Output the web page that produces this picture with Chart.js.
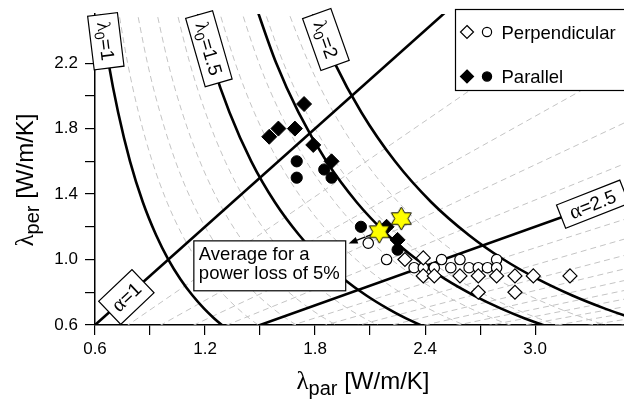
<!DOCTYPE html>
<html><head><meta charset="utf-8">
<script src="https://cdn.jsdelivr.net/npm/chart.js@4/dist/chart.umd.min.js"></script>
<style>html,body{margin:0;padding:0;background:#fff;overflow:hidden}#wrap{width:624px;height:400px;position:relative;overflow:hidden}</style>
</head><body><div id="wrap"><canvas id="c" width="637" height="400"></canvas></div>
<script>
// ---------------- data ----------------
// measured points
const perpDiamondX = [2.29, 2.39, 2.39, 2.45, 2.59, 2.69, 2.79, 2.89, 2.99, 3.19, 2.69, 2.89];
const perpDiamondY = [1.00, 1.01, 0.90, 0.90, 0.90, 0.90, 0.90, 0.90, 0.90, 0.90, 0.80, 0.80];
const perpCircleX = [2.09, 2.19, 2.49, 2.59, 2.79, 2.34, 2.39, 2.45, 2.54, 2.64, 2.69, 2.74, 2.79];
const perpCircleY = [1.10, 1.00, 1.00, 1.00, 1.00, 0.95, 0.95, 0.95, 0.95, 0.95, 0.95, 0.95, 0.95];
const parDiamondX = [1.74, 1.60, 1.55, 1.69, 1.79, 1.89, 2.19, 2.25];
const parDiamondY = [1.95, 1.80, 1.75, 1.80, 1.70, 1.60, 1.20, 1.12];
const parCircleX = [1.70, 1.70, 1.85, 1.89, 2.05, 2.25];
const parCircleY = [1.60, 1.50, 1.55, 1.50, 1.20, 1.06];
const averageX = [2.15, 2.27];
const averageY = [1.17, 1.25];

// lambda0 contour curves: shared y levels, x
const contourY = [2.6, 2.2, 1.9, 1.6, 1.35, 1.15, 1.0, 0.88, 0.78, 0.7, 0.64, 0.58];
const solidLambda0 = ['1', '1.5', '', '2'];
const solidContourX = [
  [0.620, 0.674, 0.726, 0.791, 0.861, 0.933, 1.000, 1.066, 1.132, 1.195, 1.250, 1.313],
  [1.139, 1.239, 1.333, 1.452, 1.581, 1.713, 1.837, 1.958, 2.080, 2.196, 2.296, 2.412],
  [1.461, 1.588, 1.709, 1.862, 2.027, 2.196, 2.355, 2.510, 2.667, 2.815, 2.944, 3.092],
  [1.754, 1.907, 2.052, 2.236, 2.434, 2.638, 2.828, 3.015, 3.203, 3.381, 3.536, 3.714]
];
const dashedLambda0 = [1.1, 1.2, 1.3, 1.4, 1.6, 1.7, 1.8, 1.9];
const dashedContourX = [
  [0.716, 0.778, 0.837, 0.912, 0.993, 1.076, 1.154, 1.230, 1.306, 1.379, 1.442, 1.515],
  [0.815, 0.886, 0.954, 1.039, 1.131, 1.226, 1.315, 1.401, 1.488, 1.571, 1.643, 1.726],
  [0.919, 0.999, 1.075, 1.172, 1.276, 1.382, 1.482, 1.580, 1.678, 1.772, 1.853, 1.946],
  [1.027, 1.117, 1.202, 1.310, 1.426, 1.545, 1.657, 1.766, 1.876, 1.980, 2.071, 2.175],
  [1.255, 1.365, 1.468, 1.600, 1.742, 1.887, 2.024, 2.158, 2.292, 2.419, 2.530, 2.658],
  [1.375, 1.494, 1.608, 1.752, 1.908, 2.067, 2.217, 2.363, 2.510, 2.649, 2.771, 2.911],
  [1.498, 1.628, 1.752, 1.909, 2.079, 2.252, 2.415, 2.574, 2.735, 2.886, 3.019, 3.171],
  [1.624, 1.766, 1.900, 2.071, 2.254, 2.442, 2.619, 2.792, 2.966, 3.130, 3.274, 3.439]
];

// alpha lines (from the origin to the right edge, x = 3.5)
const solidAlpha = ['1', '2.5'];
const solidAlphaEndY = [3.5, 1.4];
const dashedAlpha = [1.3, 1.6, 1.9, 2.2, 2.8, 3.1, 3.4, 3.7, 4.0, 4.3, 4.6, 4.9, 5.2, 5.5, 5.8];
const dashedAlphaEndY = [2.692, 2.188, 1.842, 1.591, 1.250, 1.129, 1.029, 0.946, 0.875, 0.814, 0.761, 0.714, 0.673, 0.636, 0.603];

// axis tick labels
const xTickLabels = ['0.6', '1.2', '1.8', '2.4', '3.0'];
const yTickLabels = ['0.6', '1.0', '1.4', '1.8', '2.2'];

// ---------------- helpers ----------------
const SANS = '"Liberation Sans", Arial, Helvetica, sans-serif';
const SERIF = '"Liberation Serif", "DejaVu Serif", "Times New Roman", serif';
const zip = (xs, ys) => xs.map((x, i) => ({x: x, y: ys[i]}));

function makeStar(R) {
  const s = Math.ceil(2 * R + 4);
  const c = document.createElement('canvas');
  c.width = s; c.height = s;
  const g = c.getContext('2d');
  const cx = s / 2, cy = s / 2;
  g.beginPath();
  for (let k = 0; k < 12; k++) {
    const ang = (-90 + 30 * k) * Math.PI / 180;
    const r = k % 2 === 0 ? R : R / Math.sqrt(3);
    const px = cx + r * Math.cos(ang), py = cy + r * Math.sin(ang);
    if (k) g.lineTo(px, py); else g.moveTo(px, py);
  }
  g.closePath();
  g.fillStyle = '#ffff00'; g.fill();
  g.lineWidth = 1; g.strokeStyle = '#000'; g.stroke();
  return c;
}
function richWidth(ctx, segs) {
  let w = 0;
  for (const s of segs) { ctx.font = s.font; w += ctx.measureText(s.t).width; }
  return w;
}
function drawRich(ctx, segs, x, y) {
  let cx = x;
  for (const s of segs) { ctx.font = s.font; ctx.fillText(s.t, cx, y + (s.dy || 0)); cx += ctx.measureText(s.t).width; }
}
function lamSegs(v) {
  return [{t: 'λ', font: '19px ' + SERIF}, {t: '0', font: '14px ' + SANS, dy: 4}, {t: '=' + v, font: '19px ' + SANS}];
}
function alphaSegs(v) {
  return [{t: 'α', font: '21px ' + SERIF}, {t: '=' + v, font: '19px ' + SANS}];
}
function tagBox(ctx, cx, cy, angleDeg, w, h, segs) {
  ctx.save();
  ctx.translate(cx, cy);
  ctx.rotate(angleDeg * Math.PI / 180);
  ctx.fillStyle = '#fff'; ctx.strokeStyle = '#000'; ctx.lineWidth = 1.2;
  ctx.fillRect(-w / 2, -h / 2, w, h); ctx.strokeRect(-w / 2, -h / 2, w, h);
  ctx.fillStyle = '#000'; ctx.textBaseline = 'alphabetic'; ctx.textAlign = 'left';
  const tw = richWidth(ctx, segs);
  drawRich(ctx, segs, -tw / 2, 6.5);
  ctx.restore();
}

// label placements (data coordinates of box centres, angle, box size)
const lamTags = [
  {v: solidLambda0[0], x: 0.659, y: 2.334, a: 83, w: 54, h: 30},
  {v: solidLambda0[1], x: 1.221, y: 2.288, a: 74, w: 71, h: 28},
  {v: solidLambda0[3], x: 1.859, y: 2.344, a: 70.5, w: 55, h: 30}
];
const alphaTags = [
  {v: solidAlpha[0], x: 0.771, y: 0.771, a: -43.6, w: 46, h: 32},
  {v: solidAlpha[1], x: 3.314, y: 1.338, a: -21.5, w: 68, h: 25}
];

const decorPlugin = {
  id: 'decor',
  beforeDatasetsDraw(chart) {
    const ctx = chart.ctx, xs = chart.scales.x, ys = chart.scales.y;
    // arrow from the first star towards the note box
    const x0 = xs.getPixelForValue(averageX[0]) - 4, y0 = ys.getPixelForValue(averageY[0]) + 1.5;
    const x1 = xs.getPixelForValue(1.983), y1 = ys.getPixelForValue(1.098);
    const ang = Math.atan2(y1 - y0, x1 - x0);
    ctx.save();
    ctx.strokeStyle = '#000'; ctx.fillStyle = '#000'; ctx.lineWidth = 1.3;
    ctx.beginPath(); ctx.moveTo(x0, y0); ctx.lineTo(x1 - 7 * Math.cos(ang), y1 - 7 * Math.sin(ang)); ctx.stroke();
    ctx.beginPath();
    ctx.moveTo(x1, y1);
    ctx.lineTo(x1 - 9 * Math.cos(ang) + 3.5 * Math.sin(ang), y1 - 9 * Math.sin(ang) - 3.5 * Math.cos(ang));
    ctx.lineTo(x1 - 9 * Math.cos(ang) - 3.5 * Math.sin(ang), y1 - 9 * Math.sin(ang) + 3.5 * Math.cos(ang));
    ctx.closePath(); ctx.fill();
    ctx.restore();
  },
  afterDatasetsDraw(chart) {
    const ctx = chart.ctx, xs = chart.scales.x, ys = chart.scales.y, ca = chart.chartArea;
    for (const t of lamTags) tagBox(ctx, xs.getPixelForValue(t.x), ys.getPixelForValue(t.y), t.a, t.w, t.h, lamSegs(t.v));
    for (const t of alphaTags) tagBox(ctx, xs.getPixelForValue(t.x), ys.getPixelForValue(t.y), t.a, t.w, t.h, alphaSegs(t.v));

    // note box
    const bl = xs.getPixelForValue(1.139), br = xs.getPixelForValue(1.967);
    const bt = ys.getPixelForValue(1.114), bb = ys.getPixelForValue(0.809);
    ctx.save();
    ctx.fillStyle = '#fff'; ctx.strokeStyle = '#000'; ctx.lineWidth = 1.2;
    ctx.fillRect(bl, bt, br - bl, bb - bt); ctx.strokeRect(bl, bt, br - bl, bb - bt);
    ctx.fillStyle = '#000'; ctx.font = '18.5px ' + SANS; ctx.textAlign = 'left'; ctx.textBaseline = 'alphabetic';
    ctx.fillText('Average for a', bl + 5, bt + 19.5);
    ctx.fillText('power loss of 5%', bl + 5, bt + 38);
    ctx.restore();

    // legend
    const lx = 455.5, ly = 9.5;
    ctx.save();
    ctx.fillStyle = '#fff'; ctx.strokeStyle = '#000'; ctx.lineWidth = 1.2;
    ctx.fillRect(lx, ly, 200, 81); ctx.strokeRect(lx, ly, 200, 81);
    const rows = [{txt: 'Perpendicular', fill: '#fff', cy: ly + 22.5}, {txt: 'Parallel', fill: '#000', cy: ly + 67}];
    for (const r of rows) {
      ctx.fillStyle = r.fill; ctx.strokeStyle = '#000'; ctx.lineWidth = 1.2;
      const dx = lx + 11.5, cr = 6.5;
      ctx.beginPath(); ctx.moveTo(dx, r.cy - cr); ctx.lineTo(dx + cr, r.cy); ctx.lineTo(dx, r.cy + cr); ctx.lineTo(dx - cr, r.cy); ctx.closePath();
      ctx.fill(); ctx.stroke();
      ctx.beginPath(); ctx.arc(lx + 31.5, r.cy, 4.6, 0, Math.PI * 2); ctx.fill(); ctx.stroke();
      ctx.fillStyle = '#000'; ctx.font = '18.5px ' + SANS; ctx.textAlign = 'left'; ctx.textBaseline = 'alphabetic';
      ctx.fillText(r.txt, lx + 46, r.cy + 6.5);
    }
    ctx.restore();

    // axis titles
    ctx.save();
    ctx.fillStyle = '#000'; ctx.textBaseline = 'alphabetic'; ctx.textAlign = 'left';
    const xt = [{t: 'λ', font: '25px ' + SERIF}, {t: 'par', font: '20px ' + SANS, dy: 6}, {t: ' [W/m/K]', font: '24px ' + SANS}];
    const xw = richWidth(ctx, xt);
    drawRich(ctx, xt, (ca.left + ca.right) / 2 + 3 - xw / 2, 389);
    const yt = [{t: 'λ', font: '25px ' + SERIF}, {t: 'per', font: '20px ' + SANS, dy: 6}, {t: ' [W/m/K]', font: '24px ' + SANS}];
    const yw = richWidth(ctx, yt);
    ctx.translate(33, 180);
    ctx.rotate(-Math.PI / 2);
    drawRich(ctx, yt, -yw / 2, 0);
    ctx.restore();
  }
};

// ---------------- datasets ----------------
const datasets = [];
const lineBase = {showLine: true, pointRadius: 0, pointHoverRadius: 0, pointHitRadius: 0, fill: false};
dashedContourX.forEach((xs) => datasets.push(Object.assign({}, lineBase, {
  data: zip(xs, contourY), borderColor: '#c4c4c4', borderWidth: 1, borderDash: [6, 4], cubicInterpolationMode: 'monotone', order: 20
})));
dashedAlphaEndY.forEach((ye) => datasets.push(Object.assign({}, lineBase, {
  data: [{x: 0, y: 0}, {x: 3.5, y: ye}], borderColor: '#c4c4c4', borderWidth: 1, borderDash: [6, 4], order: 20
})));
solidContourX.forEach((xs) => datasets.push(Object.assign({}, lineBase, {
  data: zip(xs, contourY), borderColor: '#000', borderWidth: 2.6, cubicInterpolationMode: 'monotone', order: 10
})));
solidAlphaEndY.forEach((ye) => datasets.push(Object.assign({}, lineBase, {
  data: [{x: 0, y: 0}, {x: 3.5, y: ye}], borderColor: '#000', borderWidth: 2.6, order: 10
})));
datasets.push({label: 'Perpendicular circles', data: zip(perpCircleX, perpCircleY), pointStyle: 'circle', pointRadius: 5.2,
  backgroundColor: '#fff', borderColor: '#000', borderWidth: 1.2, order: 5});
datasets.push({label: 'Perpendicular diamonds', data: zip(perpDiamondX, perpDiamondY), pointStyle: 'rectRot', pointRadius: 7,
  backgroundColor: '#fff', borderColor: '#000', borderWidth: 1.2, order: 4});
datasets.push({label: 'Parallel circles', data: zip(parCircleX, parCircleY), pointStyle: 'circle', pointRadius: 5.6,
  backgroundColor: '#000', borderColor: '#000', borderWidth: 1, order: 3});
datasets.push({label: 'Parallel diamonds', data: zip(parDiamondX, parDiamondY), pointStyle: 'rectRot', pointRadius: 7.5,
  backgroundColor: '#000', borderColor: '#000', borderWidth: 1, order: 2});
datasets.push({label: 'Average', data: zip(averageX, averageY), pointStyle: makeStar(11.5), pointRadius: 11, order: 1});

new Chart(document.getElementById('c'), {
  type: 'scatter',
  data: {datasets: datasets},
  options: {
    responsive: false, animation: false, devicePixelRatio: 1,
    layout: {padding: {top: 14, right: 0, left: 0, bottom: 0}},
    plugins: {legend: {display: false}, tooltip: {enabled: false}},
    events: [],
    scales: {
      x: {
        type: 'linear', min: 0.6, max: 3.49,
        ticks: {stepSize: 0.3, color: '#000', font: {family: SANS, size: 17}, padding: 4, maxRotation: 0, autoSkip: false,
          callback: (v) => { const s = v.toFixed(1); return xTickLabels.includes(s) ? s : ''; }},
        afterBuildTicks: (ax) => { ax.ticks = ax.ticks.filter(t => Math.abs(t.value / 0.3 - Math.round(t.value / 0.3)) < 1e-6); },
        afterFit: (ax) => { ax.height = 75; ax.paddingLeft = 0; ax.paddingRight = 0; },
        grid: {drawOnChartArea: false, drawTicks: true, tickLength: 10, color: '#000', lineWidth: 1.2},
        border: {display: true, color: '#000', width: 1.5}
      },
      y: {
        type: 'linear', min: 0.6, max: 2.5,
        ticks: {stepSize: 0.2, color: '#000', font: {family: SANS, size: 17}, padding: 7, autoSkip: false,
          callback: (v) => { const s = v.toFixed(1); return yTickLabels.includes(s) ? s : ''; }},
        afterBuildTicks: (ax) => { ax.ticks = ax.ticks.filter(t => Math.abs(t.value / 0.2 - Math.round(t.value / 0.2)) < 1e-6); },
        afterFit: (ax) => { ax.width = 95; ax.paddingTop = 0; ax.paddingBottom = 0; },
        grid: {drawOnChartArea: false, drawTicks: true, tickLength: 10, color: '#000', lineWidth: 1.2},
        border: {display: true, color: '#000', width: 1.5}
      }
    }
  },
  plugins: [decorPlugin]
});
</script>
</body></html>
